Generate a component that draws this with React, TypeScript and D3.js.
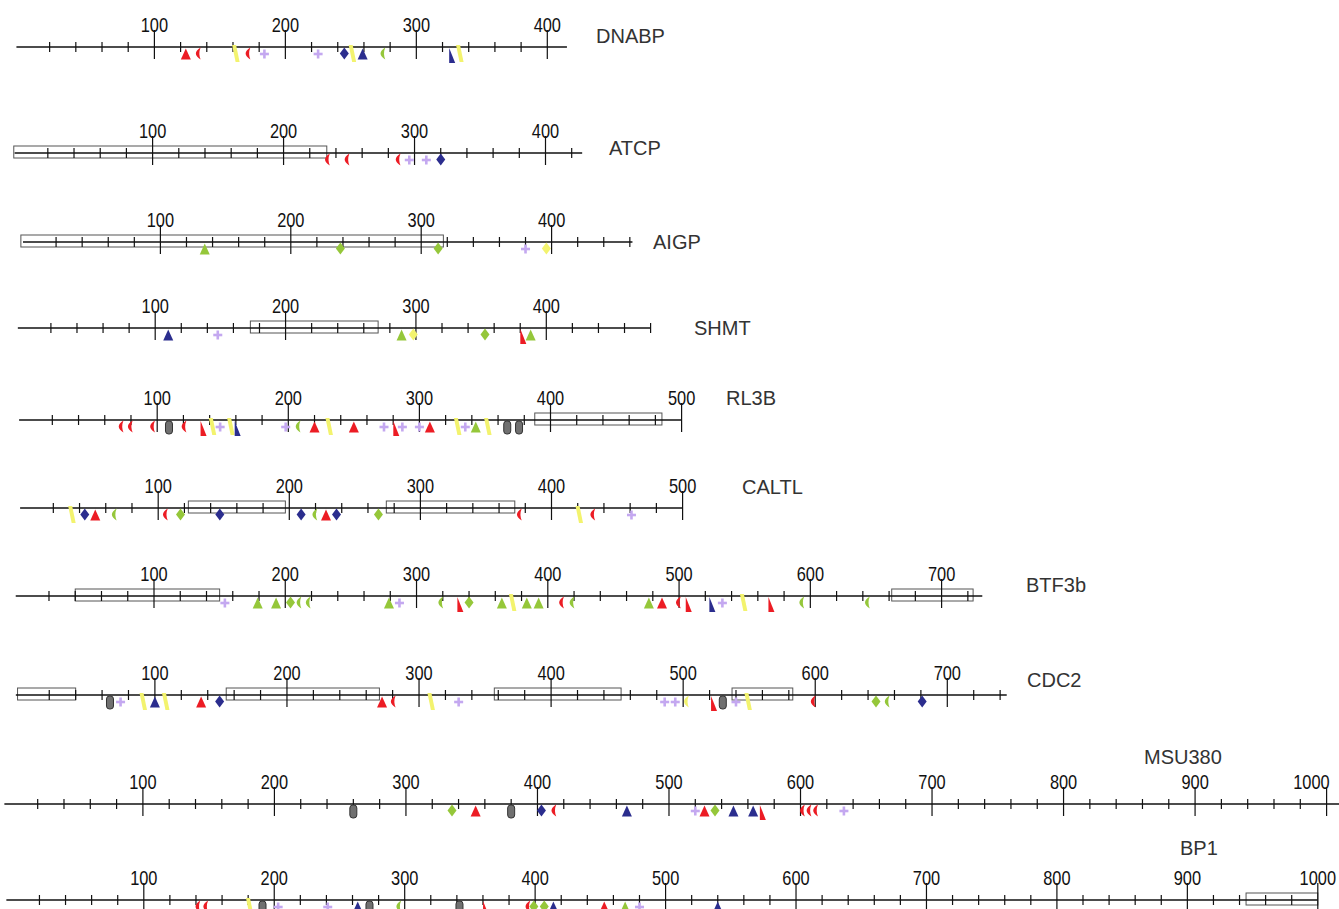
import React from 'react';
import * as d3 from 'd3';

// track names and sequence lengths
const trackNames = ['DNABP', 'ATCP', 'AIGP', 'SHMT', 'RL3B', 'CALTL', 'BTF3b', 'CDC2', 'MSU380', 'BP1'];
const trackLengths = [415, 428, 462, 480, 500, 500, 731, 745, 1035, 1000];
const lastMajor = [400, 400, 400, 400, 500, 500, 700, 700, 1000, 1000];

// boxed regions [start, end]
const dnabpBoxes: number[][] = [];
const atcpBoxes = [[-6, 233]];
const aigpBoxes = [[-7, 317]];
const shmtBoxes = [[173, 271]];
const rl3bBoxes = [[388, 485]];
const caltlBoxes = [[123, 197], [274, 372]];
const btf3bBoxes = [[40, 150], [662, 724]];
const cdc2Boxes = [[-4, 40], [154, 270], [357, 453], [537, 583]];
const msu380Boxes: number[][] = [];
const bp1Boxes = [[945, 1000]];

// motifs: position, kind (shape + colour)
// t=triangle w=wedge c=crescent d=diamond p=plus k=capsule ; r=red n=navy g=green y=yellow
const dnabpMarks: [number, string][] = [[124, 'tr'], [133, 'cr'], [162, 'wy'], [171, 'cr'], [184, 'p'], [225, 'p'], [245, 'dn'], [251, 'wy'], [259, 'tn'], [274, 'cg'], [327, 'wn'], [333, 'wy']];
const atcpMarks: [number, string][] = [[233, 'cr'], [248, 'cr'], [287, 'cr'], [296, 'p'], [309, 'p'], [320, 'dn']];
const aigpMarks: [number, string][] = [[134, 'tg'], [238, 'dg'], [313, 'dg'], [380, 'p'], [396, 'dy']];
const shmtMarks: [number, string][] = [[110, 'tn'], [148, 'p'], [289, 'tg'], [298, 'dy'], [353, 'dg'], [382, 'wr'], [388, 'tg']];
const rl3bMarks: [number, string][] = [[72, 'cr'], [79, 'cr'], [96, 'cr'], [109, 'k'], [120, 'cr'], [135, 'wr'], [142, 'wy'], [148, 'p'], [156, 'wy'], [161, 'wn'], [198, 'p'], [207, 'cg'], [220, 'tr'], [231, 'wy'], [250, 'tr'], [273, 'p'], [282, 'wr'], [287, 'p'], [300, 'p'], [308, 'tr'], [329, 'wy'], [335, 'p'], [343, 'tg'], [352, 'wy'], [367, 'k'], [376, 'k']];
const caltlMarks: [number, string][] = [[34, 'wy'], [44, 'dn'], [52, 'tr'], [66, 'cg'], [105, 'cr'], [117, 'dg'], [147, 'dn'], [209, 'dn'], [219, 'cg'], [228, 'tr'], [236, 'dn'], [268, 'dg'], [375, 'cr'], [421, 'wy'], [431, 'cr'], [461, 'p']];
const btf3bMarks: [number, string][] = [[154, 'p'], [179, 'tg'], [193, 'tg'], [204, 'dg'], [210, 'cg'], [217, 'cg'], [279, 'tg'], [287, 'p'], [318, 'cg'], [333, 'wr'], [340, 'dg'], [365, 'tg'], [373, 'wy'], [384, 'tg'], [393, 'tg'], [410, 'cr'], [418, 'cg'], [477, 'tg'], [487, 'tr'], [499, 'cr'], [507, 'wr'], [525, 'wn'], [533, 'p'], [549, 'wy'], [570, 'wr'], [593, 'cg'], [643, 'cg']];
const cdc2Marks: [number, string][] = [[66, 'k'], [74, 'p'], [91, 'wy'], [100, 'tn'], [108, 'wy'], [135, 'tr'], [149, 'dn'], [272, 'tr'], [280, 'cr'], [309, 'wy'], [330, 'p'], [486, 'p'], [494, 'p'], [502, 'cy'], [523, 'wr'], [530, 'k'], [540, 'p'], [549, 'wy'], [598, 'cr'], [646, 'dg'], [654, 'cg'], [681, 'dn']];
const msu380Marks: [number, string][] = [[260, 'k'], [335, 'dg'], [353, 'tr'], [380, 'k'], [403, 'dn'], [412, 'cr'], [468, 'tn'], [520, 'p'], [527, 'tr'], [535, 'dg'], [549, 'tn'], [564, 'tn'], [571, 'wr'], [601, 'cr'], [606, 'cr'], [611, 'cr'], [633, 'p']];
const bp1Marks: [number, string][] = [[141, 'cr'], [147, 'cr'], [181, 'wy'], [191, 'k'], [203, 'p'], [241, 'p'], [264, 'tn'], [273, 'k'], [295, 'cg'], [342, 'k'], [362, 'wr'], [394, 'cr'], [399, 'dg'], [407, 'dg'], [414, 'tn'], [453, 'tr'], [469, 'tg'], [480, 'p'], [540, 'tn']];

const allBoxes = [dnabpBoxes, atcpBoxes, aigpBoxes, shmtBoxes, rl3bBoxes, caltlBoxes, btf3bBoxes, cdc2Boxes, msu380Boxes, bp1Boxes];
const allMarks = [dnabpMarks, atcpMarks, aigpMarks, shmtMarks, rl3bMarks, caltlMarks, btf3bMarks, cdc2Marks, msu380Marks, bp1Marks];

// layout
const W = 1339, H = 909;
const axisY = [47, 153, 242, 328, 420, 508, 596, 695, 804, 900];
const pxRange = [[154.4, 547.3], [152.6, 545.5], [160.4, 551.6], [155.2, 546.3], [157.2, 681.6], [158.2, 682.6], [154, 941.6], [154.9, 947.3], [142.9, 1326.6], [143.8, 1317.8]];
const nameX = [596, 609, 653, 694, 726, 742, 1026, 1027, 1144, 1180];
const nameY = [36, 148, 242, 328, 398, 487, 585, 680, 757, 848];

const colors: Record<string, string> = {
  r: '#ec1c24', n: '#2b2d8e', g: '#95c73a', y: '#f3f36e', p: '#c4a8f0', k: '#707070',
};

function Marker({ x, y, kind }: { x: number; y: number; kind: string }) {
  const shape = kind[0];
  const fill = kind === 'p' ? colors.p : kind === 'k' ? colors.k : colors[kind[1]];
  if (shape === 't') {
    return <path d={`M${x},${y + 1.5}L${x + 5},${y + 12.5}L${x - 5},${y + 12.5}Z`} fill={fill} />;
  }
  if (shape === 'w') {
    if (kind[1] === 'y') {
      return <path d={`M${x - 3.5},${y - 2}L${x + 0.5},${y - 2}L${x + 4},${y + 15}L${x},${y + 15}Z`} fill={fill} />;
    }
    return <path d={`M${x - 2.5},${y + 1}L${x + 3.5},${y + 16}L${x - 2.5},${y + 16}Z`} fill={fill} />;
  }
  if (shape === 'c') {
    return <path d={`M${x + 3},${y + 0.5}Q${x - 6.5},${y + 6.5} ${x + 3},${y + 12.5}Q${x + 0.5},${y + 6.5} ${x + 3},${y + 0.5}Z`} fill={fill} />;
  }
  if (shape === 'd') {
    return <path d={`M${x},${y + 0.5}L${x + 4.5},${y + 6.5}L${x},${y + 12.5}L${x - 4.5},${y + 6.5}Z`} fill={fill} />;
  }
  if (shape === 'p') {
    return <g fill={fill}>
      <rect x={x - 4.5} y={y + 5.7} width={9} height={2.6} />
      <rect x={x - 1.3} y={y + 2.5} width={2.6} height={9} />
    </g>;
  }
  // capsule
  return <rect x={x - 3.5} y={y + 1} width={7} height={13} rx={3} fill={fill} stroke="#333" strokeWidth={1} />;
}

function Track({ i }: { i: number }) {
  const y = axisY[i];
  const len = trackLengths[i];
  const x = d3.scaleLinear().domain([100, lastMajor[i]]).range(pxRange[i]);
  const ticks = d3.range(20, len + 0.1, 20);
  return <g>
    {allBoxes[i].map((b, j) => (
      <rect key={'b' + j} x={x(b[0])} y={y - 7} width={x(b[1]) - x(b[0])} height={12}
        fill="none" stroke="#555" strokeWidth={1} />
    ))}
    <line x1={x(0) - 7} x2={x(len)} y1={y} y2={y} stroke="#111" strokeWidth={1.5} />
    {ticks.map(t => {
      const major = t % 100 === 0;
      return <line key={t} x1={x(t)} x2={x(t)} y1={major ? y - 17 : y - 5} y2={major ? y + 12 : y + 5}
        stroke="#111" strokeWidth={1.2} />;
    })}
    {ticks.filter(t => t % 100 === 0).map(t => {
      const tx = x(t);
      const overflow = tx + 18 > W;
      return <text key={'l' + t} transform={`translate(${overflow ? tx + 3 : tx},${y - 15}) scale(0.82,1)`}
        textAnchor={overflow ? 'end' : 'middle'} fontSize={20}
        fontFamily="'Liberation Sans', Arial, sans-serif" fill="#111">{t}</text>;
    })}
    {allMarks[i].map((m, j) => <Marker key={'m' + j} x={x(m[0])} y={y} kind={m[1]} />)}
    <text x={nameX[i]} y={nameY[i] + 7} fontSize={20}
      fontFamily="'Liberation Sans', Arial, sans-serif" fill="#333">{trackNames[i]}</text>
  </g>;
}

export default function App() {
  return <svg width={W} height={H} style={{ position: 'absolute', left: 0, top: 0, background: '#fff' }}>
    <rect width={W} height={H} fill="#fff" />
    {trackNames.map((_, i) => <Track key={i} i={i} />)}
  </svg>;
}
